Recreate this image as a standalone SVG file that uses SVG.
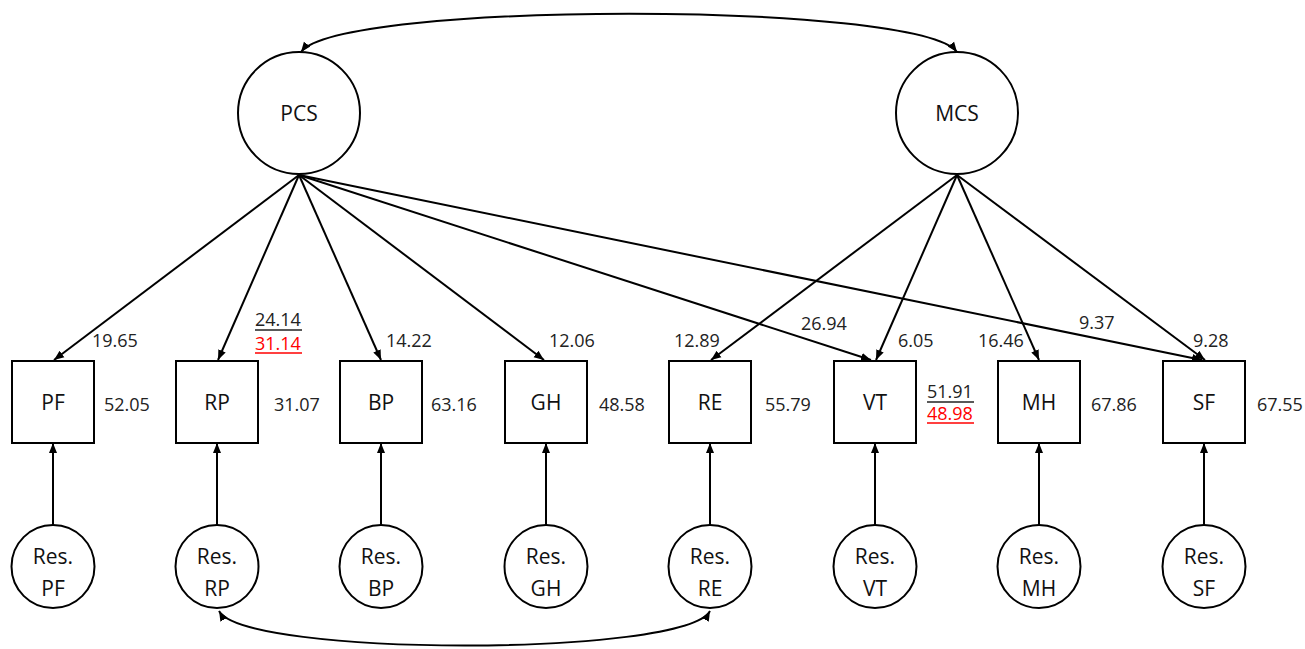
<svg xmlns="http://www.w3.org/2000/svg" width="1305" height="649" viewBox="0 0 1305 649">
<style>
.n{fill:#fff;stroke:#000;stroke-width:2}
.c{fill:none;stroke:#000;stroke-width:2}
.lb{font-family:"Open Sans","Liberation Sans",sans-serif;font-size:21px;fill:#111;text-anchor:middle}
.v{font-family:"Open Sans","Liberation Sans",sans-serif;font-size:18px;fill:#222}
.r{fill:#ff0000}
.ul{stroke:#222;stroke-width:1.5}
.ulr{stroke:#ff0000;stroke-width:1.5}
</style>
<defs>
<marker id="ah" viewBox="0 0 10 10" refX="10" refY="5" markerWidth="10" markerHeight="10" markerUnits="userSpaceOnUse" orient="auto-start-reverse">
<path d="M0,1 L10,5 L0,9 Z" fill="#000"/>
</marker>
</defs>
<g id="connectors">
<path class="c" d="M301,52 C340,1 918,1 957,52" marker-start="url(#ah)" marker-end="url(#ah)"/>
<path class="c" d="M219,611 C245,657 685,657 710,611" marker-start="url(#ah)" marker-end="url(#ah)"/>
<line class="c" x1="299" y1="175" x2="54" y2="360" marker-end="url(#ah)"/>
<line class="c" x1="299" y1="175" x2="218" y2="360" marker-end="url(#ah)"/>
<line class="c" x1="299" y1="175" x2="381" y2="360" marker-end="url(#ah)"/>
<line class="c" x1="299" y1="175" x2="544" y2="360" marker-end="url(#ah)"/>
<line class="c" x1="299" y1="175" x2="871" y2="360" marker-end="url(#ah)"/>
<line class="c" x1="299" y1="175" x2="1202" y2="360" marker-end="url(#ah)"/>
<line class="c" x1="957" y1="175" x2="711" y2="360" marker-end="url(#ah)"/>
<line class="c" x1="957" y1="175" x2="876" y2="360" marker-end="url(#ah)"/>
<line class="c" x1="957" y1="175" x2="1039" y2="360" marker-end="url(#ah)"/>
<line class="c" x1="957" y1="175" x2="1205" y2="360" marker-end="url(#ah)"/>
<line class="c" x1="53" y1="525" x2="53" y2="443" marker-end="url(#ah)"/>
<line class="c" x1="217" y1="525" x2="217" y2="443" marker-end="url(#ah)"/>
<line class="c" x1="381" y1="525" x2="381" y2="443" marker-end="url(#ah)"/>
<line class="c" x1="546" y1="525" x2="546" y2="443" marker-end="url(#ah)"/>
<line class="c" x1="710" y1="525" x2="710" y2="443" marker-end="url(#ah)"/>
<line class="c" x1="875" y1="525" x2="875" y2="443" marker-end="url(#ah)"/>
<line class="c" x1="1039" y1="525" x2="1039" y2="443" marker-end="url(#ah)"/>
<line class="c" x1="1204" y1="525" x2="1204" y2="443" marker-end="url(#ah)"/>
</g>
<g id="PCS"><circle class="n" cx="299" cy="113" r="61"/><text class="lb" x="299" y="121">PCS</text></g>
<g id="MCS"><circle class="n" cx="957" cy="113" r="61"/><text class="lb" x="957" y="121">MCS</text></g>
<g id="PF"><rect class="n" x="12" y="361" width="82" height="82"/><text class="lb" x="53" y="410">PF</text></g>
<g id="RP"><rect class="n" x="176" y="361" width="82" height="82"/><text class="lb" x="217" y="410">RP</text></g>
<g id="BP"><rect class="n" x="340" y="361" width="82" height="82"/><text class="lb" x="381" y="410">BP</text></g>
<g id="GH"><rect class="n" x="505" y="361" width="82" height="82"/><text class="lb" x="546" y="410">GH</text></g>
<g id="RE"><rect class="n" x="669" y="361" width="82" height="82"/><text class="lb" x="710" y="410">RE</text></g>
<g id="VT"><rect class="n" x="834" y="361" width="82" height="82"/><text class="lb" x="875" y="410">VT</text></g>
<g id="MH"><rect class="n" x="998" y="361" width="82" height="82"/><text class="lb" x="1039" y="410">MH</text></g>
<g id="SF"><rect class="n" x="1163" y="361" width="82" height="82"/><text class="lb" x="1204" y="410">SF</text></g>
<g id="ResPF"><circle class="n" cx="53" cy="566.5" r="41.5"/><text class="lb" x="53" y="564">Res.</text><text class="lb" x="53" y="596">PF</text></g>
<g id="ResRP"><circle class="n" cx="217" cy="566.5" r="41.5"/><text class="lb" x="217" y="564">Res.</text><text class="lb" x="217" y="596">RP</text></g>
<g id="ResBP"><circle class="n" cx="381" cy="566.5" r="41.5"/><text class="lb" x="381" y="564">Res.</text><text class="lb" x="381" y="596">BP</text></g>
<g id="ResGH"><circle class="n" cx="546" cy="566.5" r="41.5"/><text class="lb" x="546" y="564">Res.</text><text class="lb" x="546" y="596">GH</text></g>
<g id="ResRE"><circle class="n" cx="710" cy="566.5" r="41.5"/><text class="lb" x="710" y="564">Res.</text><text class="lb" x="710" y="596">RE</text></g>
<g id="ResVT"><circle class="n" cx="875" cy="566.5" r="41.5"/><text class="lb" x="875" y="564">Res.</text><text class="lb" x="875" y="596">VT</text></g>
<g id="ResMH"><circle class="n" cx="1039" cy="566.5" r="41.5"/><text class="lb" x="1039" y="564">Res.</text><text class="lb" x="1039" y="596">MH</text></g>
<g id="ResSF"><circle class="n" cx="1204" cy="566.5" r="41.5"/><text class="lb" x="1204" y="564">Res.</text><text class="lb" x="1204" y="596">SF</text></g>
<g id="labels">
<text class="v" x="92" y="347">19.65</text>
<text class="v" x="255" y="326">24.14</text>
<line class="ul" x1="255" y1="330" x2="302" y2="330"/>
<text class="v r" x="255" y="350">31.14</text>
<line class="ulr" x1="255" y1="353" x2="302" y2="353"/>
<text class="v" x="386" y="347">14.22</text>
<text class="v" x="549" y="347">12.06</text>
<text class="v" x="674" y="347">12.89</text>
<text class="v" x="801" y="330">26.94</text>
<text class="v" x="898" y="347">6.05</text>
<text class="v" x="978" y="347">16.46</text>
<text class="v" x="1079" y="329">9.37</text>
<text class="v" x="1193" y="347">9.28</text>
<text class="v" x="104" y="411">52.05</text>
<text class="v" x="274" y="411">31.07</text>
<text class="v" x="431" y="411">63.16</text>
<text class="v" x="599" y="411">48.58</text>
<text class="v" x="765" y="411">55.79</text>
<text class="v" x="927" y="398">51.91</text>
<line class="ul" x1="927" y1="402" x2="974" y2="402"/>
<text class="v r" x="927" y="420">48.98</text>
<line class="ulr" x1="927" y1="423" x2="974" y2="423"/>
<text class="v" x="1091" y="411">67.86</text>
<text class="v" x="1257" y="411">67.55</text>
</g>
</svg>
